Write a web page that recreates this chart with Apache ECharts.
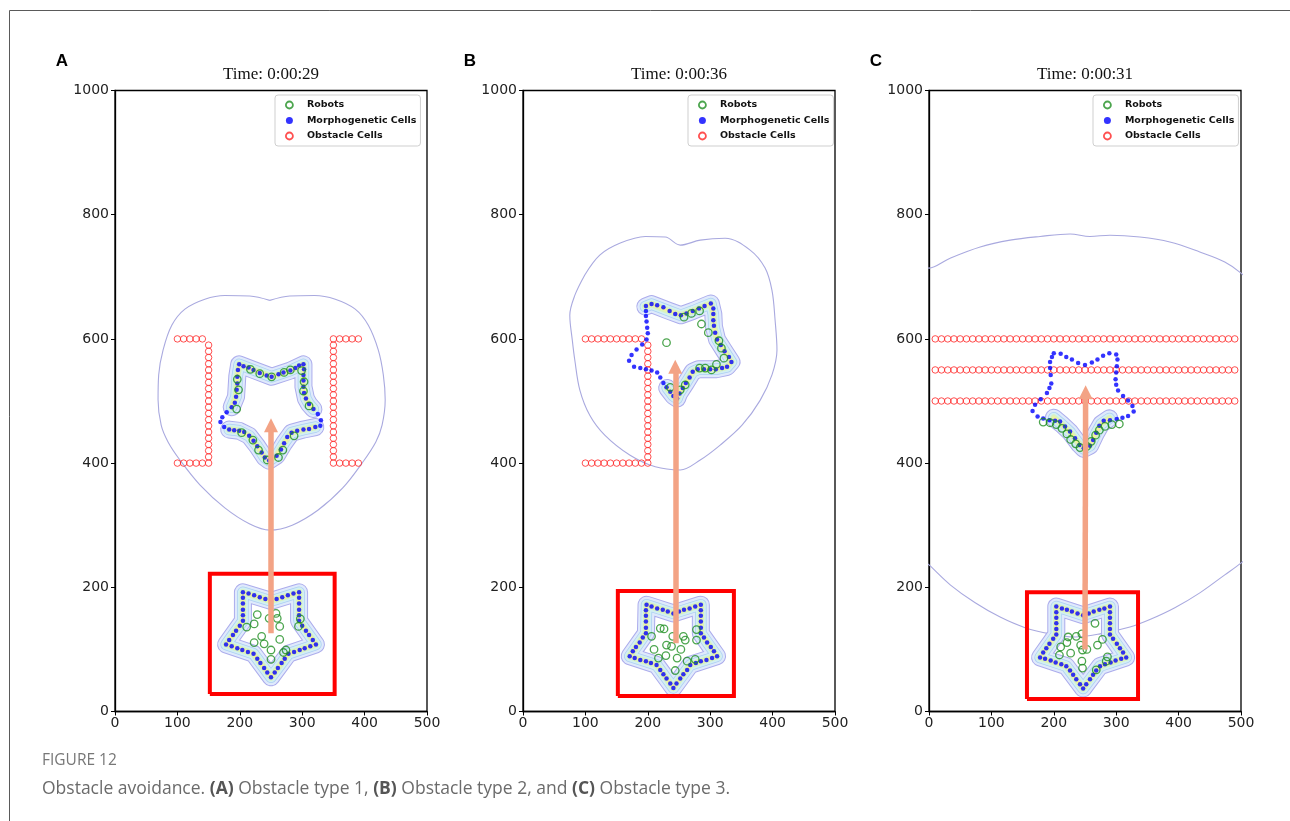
<!DOCTYPE html>
<html>
<head>
<meta charset="utf-8">
<script src="https://cdn.jsdelivr.net/npm/echarts@6/dist/echarts.min.js"></script>
<style>
  html, body { margin: 0; padding: 0; background: #ffffff; }
  #main { width: 1290px; height: 821px; }
</style>
</head>
<body>
<div id="main"></div>
<script>
// ---------------- values ----------------
const panelTitles = ['Time: 0:00:29', 'Time: 0:00:36', 'Time: 0:00:31'];
const panelLetters = ['A', 'B', 'C'];
const legendNames = ['Robots', 'Morphogenetic Cells', 'Obstacle Cells'];
const figureLabel = 'FIGURE 12';

// Obstacle cells (x, y)
const obstacleCellsA = [
  [100,600],[110,600],[120,600],[130,600],[140,600],
  [150,590],[150,580],[150,570],[150,560],[150,550],[150,540],[150,530],[150,520],[150,510],[150,500],
  [150,490],[150,480],[150,470],[150,460],[150,450],[150,440],[150,430],[150,420],[150,410],[150,400],
  [100,400],[110,400],[120,400],[130,400],[140,400],
  [350,600],[350,590],[350,580],[350,570],[350,560],[350,550],[350,540],[350,530],[350,520],[350,510],[350,500],
  [350,490],[350,480],[350,470],[350,460],[350,450],[350,440],[350,430],[350,420],[350,410],[350,400],
  [360,600],[370,600],[380,600],[390,600],
  [360,400],[370,400],[380,400],[390,400]
];
const obstacleCellsB = [
  [100,600],[110,600],[120,600],[130,600],[140,600],[150,600],[160,600],[170,600],[180,600],[190,600],
  [200,590],[200,580],[200,570],[200,560],[200,550],[200,540],[200,530],[200,520],[200,510],[200,500],
  [200,490],[200,480],[200,470],[200,460],[200,450],[200,440],[200,430],[200,420],[200,410],[200,400],
  [100,400],[110,400],[120,400],[130,400],[140,400],[150,400],[160,400],[170,400],[180,400],[190,400]
];
const obstacleRowXC = [10,20,30,40,50,60,70,80,90,100,110,120,130,140,150,160,170,180,190,200,
  210,220,230,240,250,260,270,280,290,300,310,320,330,340,350,360,370,380,390,400,
  410,420,430,440,450,460,470,480,490];
const obstacleRowYC = [500, 550, 600];

// Morphogenetic cells
const morphoStartA = [
  [250,55],[256,63],[261,70],[267,78],[272,85],[278,93],[287,96],[296,99],[304,102],[313,105],
  [322,108],[317,115],[311,123],[306,130],[300,138],[295,146],[295,155],[295,164],[295,174],[295,183],
  [295,192],[286,190],[277,187],[268,184],[259,181],[250,178],[241,181],[232,184],[223,187],[214,190],
  [205,192],[205,183],[205,174],[205,164],[205,155],[205,146],[200,138],[194,130],[189,123],[183,115],
  [178,108],[187,105],[196,102],[204,99],[213,96],[222,93],[228,85],[233,78],[239,70],[244,63]
];
const morphoUpperA = [
  [199,559],[206,556],[214,554],[222,550],[232,545],[243,541],[251,539],[262,543],[270,546],[281,549],
  [289,553],[295,557],[302,559],[303,551],[302,542],[302,533],[302,523],[303,513],[306,504],[311,495],
  [318,487],[325,479],[330,469],[329,460],[321,458],[311,455],[302,454],[292,452],[283,449],[276,442],
  [271,432],[266,422],[259,412],[247,404],[240,409],[235,417],[228,427],[222,436],[215,444],[207,450],
  [199,452],[191,453],[183,454],[175,458],[169,466],[172,474],[179,482],[187,490],[192,497],[194,507],
  [195,518],[196,528],[196,539],[197,550]
];
const morphoStartB = [
  [241,38],[246,45],[252,53],[257,60],[263,67],[268,75],[277,78],[285,81],[294,83],[303,86],
  [311,89],[306,97],[301,104],[295,111],[290,119],[285,126],[285,135],[285,145],[285,154],[285,163],
  [285,172],[276,169],[267,166],[258,164],[250,161],[241,158],[232,161],[224,164],[215,166],[206,169],
  [198,172],[197,163],[197,154],[197,145],[197,135],[197,126],[192,119],[187,111],[181,104],[176,97],
  [171,89],[179,86],[188,83],[197,81],[205,78],[214,75],[220,67],[225,60],[230,53],[236,45]
];
const morphoUpperB = [
  [197,653],[206,656],[215,654],[225,651],[235,645],[244,640],[253,638],[262,641],[272,645],[282,649],
  [291,653],[301,657],[305,649],[305,640],[305,630],[306,621],[308,610],[311,599],[317,590],[323,580],
  [330,571],[334,563],[327,555],[319,553],[309,551],[300,551],[290,551],[280,551],[272,547],[267,538],
  [261,529],[256,521],[251,512],[247,504],[241,508],[236,515],[230,522],[225,529],[220,538],[215,546],
  [206,549],[197,551],[188,553],[178,555],[170,565],[174,574],[182,583],[191,591],[198,599],[200,609],
  [199,618],[198,628],[197,637],[197,645]
];
const morphoStartC = [
  [247,37],[252,44],[258,52],[263,59],[268,66],[274,73],[282,76],[291,79],[299,82],[308,85],
  [316,87],[311,95],[306,102],[301,109],[295,117],[290,124],[290,133],[290,142],[290,151],[290,160],
  [290,169],[281,166],[273,164],[264,161],[256,158],[247,155],[238,158],[229,161],[221,164],[213,166],
  [204,169],[204,160],[204,151],[204,142],[204,133],[204,124],[199,117],[193,109],[188,102],[183,95],
  [178,87],[186,85],[195,82],[203,79],[212,76],[220,73],[226,66],[231,59],[236,52],[242,44]
];
const morphoUpperC = [
  [200,577],[211,576],[220,571],[229,567],[239,561],[250,558],[261,562],[270,567],[279,573],[289,577],
  [300,575],[302,567],[301,556],[300,546],[299,535],[300,526],[303,517],[311,508],[319,501],[326,492],
  [328,483],[319,476],[310,473],[301,471],[290,469],[280,468],[273,460],[268,449],[263,437],[258,428],
  [248,424],[241,429],[234,440],[226,451],[218,459],[210,467],[202,468],[193,469],[183,472],[174,475],
  [166,484],[170,494],[179,503],[189,513],[193,521],[196,528],[195,542],[194,553],[194,563],[197,571]
];

// Robots
const robotsStartA = [
  [228,156],[247,150],[258,158],[260,150],[223,141],[264,137],[211,136],[297,149],[294,137],
  [235,121],[223,111],[239,109],[250,99],[264,116],[274,99],[270,95],[250,84]
];
const robotsUpperA = [
  [217,551],[232,544],[251,539],[271,546],[281,550],[299,549],[303,531],[302,516],[311,492],
  [196,535],[198,518],[195,487],[203,449],[221,437],[230,421],[244,405],[262,409],[269,421],[287,444]
];
const robotsStartB = [
  [220,134],[226,133],[240,121],[257,121],[260,115],[278,132],[278,115],[206,121],[210,100],
  [230,107],[238,105],[253,100],[229,90],[247,86],[217,86],[263,81],[276,84],[244,66]
];
const robotsUpperB = [
  [258,635],[270,641],[283,645],[286,624],[297,610],[314,597],[318,585],[322,569],
  [310,559],[302,550],[292,553],[283,553],[260,526],[252,518],[236,522],[230,594]
];
const robotsStartC = [
  [266,142],[223,120],[236,121],[245,125],[221,111],[211,104],[243,107],[246,99],[253,100],
  [227,94],[209,91],[245,81],[246,70],[270,107],[278,116],[286,88],[284,81],[268,67]
];
const robotsUpperC = [
  [183,466],[194,465],[204,462],[213,456],[221,447],[227,438],[235,431],[242,425],
  [253,427],[260,435],[267,445],[273,453],[282,459],[293,462],[305,463]
];

// Field level sets: the band around the formation and the outer boundary contour
const bandStartA = [[250,55],[278,93],[322,108],[295,146],[295,192],[250,178],[205,192],[205,146],[178,108],[222,93],[250,55]];
const bandTopA = [[187,490],[194,507],[196,540],[199,559],[222,550],[251,539],[281,549],[302,559],[302,523],[306,504],[311,495],[318,487]];
const bandBottomA = [[183,454],[199,452],[215,444],[228,427],[240,409],[247,404],[259,412],[271,432],[283,449],[302,454],[321,458]];
const bandStartB = [[241,38],[268,75],[311,89],[285,126],[285,172],[241,158],[198,172],[197,126],[171,89],[214,75],[241,38]];
const bandUpperB = [[196,652],[206,656],[234,645],[253,638],[272,645],[301,657],[305,640],[306,620],[311,599],[323,580],[334,563],[327,555],[309,551],[281,551],[272,547],[261,529],[250,512],[247,504],[241,508],[231,521]];
const bandStartC = [[247,37],[274,73],[316,87],[290,124],[290,169],[247,155],[204,169],[204,124],[178,87],[220,73],[247,37]];
const bandUpperC = [[200,473],[212,463],[226,450],[241,430],[248,423],[258,428],[268,449],[276,463],[289,472]];

const outerContourA = [
  [248,662],[216,669],[176,670],[144,664],[112,648],[91,622],[77,582],[70,542],[69,502],[74,461],
  [85,434],[104,405],[136,365],[176,328],[216,302],[248,292],[284,300],[325,324],[365,360],[396,400],
  [418,434],[428,461],[433,502],[430,542],[422,582],[406,622],[385,648],[353,664],[320,670],[280,669],[248,662]
];
const outerContourB = [
  [99,703],[123,735],[155,754],[196,765],[228,764],[252,751],[284,759],[324,762],[364,743],[388,714],
  [399,678],[404,630],[407,582],[399,542],[380,501],[351,461],[316,429],[284,405],[252,389],[212,394],
  [171,413],[131,445],[107,477],[91,518],[83,566],[79,598],[75,638],[83,670],[99,703]
];
const outerContourC = [
  [-46,759],[0,714],[34,730],[82,748],[130,759],[178,765],[226,769],[258,765],[290,767],[338,764],
  [386,756],[434,740],[474,724],[500,706],[546,662],[562,453],[546,276],[500,239],[474,220],[434,191],
  [394,167],[354,148],[322,136],[274,125],[234,120],[194,125],[154,135],[114,152],[74,175],[34,204],
  [0,236],[-46,276],[-62,453],[-46,759]
];

// Start areas [xMin, xMax, yMin, yMax]
const startBoxA = [152, 352, 28, 222];
const startBoxB = [152, 338, 25, 194];
const startBoxC = [157, 335, 20, 192];

// Movement arrows [from, to]
const moveArrowA = [[250,126],[250,461]];
const moveArrowB = [[244,110],[244,555]];
const moveArrowC = [[250,100],[251,514]];

// ---------------- layout & styling ----------------
const gridLefts = [115, 523, 929];
const GRID_TOP = 90.5, GRID_W = 312, GRID_H = 621;
const legendLefts = [275, 688, 1093];

const COL_ROBOT = '#1f8f22';
const COL_MORPHO = '#0000ff';
const COL_OBST = '#ff2424';
const COL_CONTOUR = '#a9a9df';
const COL_ARROW = '#f3a385';

const bandLayers = [
  { w: 18, c: '#acacec' },
  { w: 16, c: '#dfeafc' },
  { w: 11.5, c: '#adcff3' },
  { w: 10, c: '#d2eff3' },
  { w: 6.5, c: '#d9f3bd' },
  { w: 3, c: '#f4f29c' }
];

const panels = [
  { contour: outerContourA, bands: [bandStartA, bandTopA, bandBottomA], box: startBoxA,
    obstacles: obstacleCellsA, morpho: morphoStartA.concat(morphoUpperA),
    robots: robotsStartA.concat(robotsUpperA), arrow: moveArrowA },
  { contour: outerContourB, bands: [bandStartB, bandUpperB], box: startBoxB,
    obstacles: obstacleCellsB, morpho: morphoStartB.concat(morphoUpperB),
    robots: robotsStartB.concat(robotsUpperB), arrow: moveArrowB },
  { contour: outerContourC, bands: [bandStartC, bandUpperC], box: startBoxC,
    obstacles: obstacleRowYC.flatMap(y => obstacleRowXC.map(x => [x, y])),
    morpho: morphoStartC.concat(morphoUpperC),
    robots: robotsStartC.concat(robotsUpperC), arrow: moveArrowC }
];

const tickFont = { color: '#222', fontSize: 14, fontFamily: 'DejaVu Sans', formatter: v => String(v) };

const grids = [], xAxes = [], yAxes = [], series = [], legends = [], graphics = [];

panels.forEach((p, i) => {
  grids.push({ left: gridLefts[i], top: GRID_TOP, width: GRID_W, height: GRID_H,
    show: true, borderColor: '#000', borderWidth: 1.3, backgroundColor: 'transparent' });
  xAxes.push({ gridIndex: i, type: 'value', min: 0, max: 500, interval: 100,
    axisLine: { show: true, onZero: false, lineStyle: { color: '#000', width: 1.3 } },
    axisTick: { show: true, length: 4, lineStyle: { color: '#000', width: 1 } },
    axisLabel: Object.assign({ margin: 5 }, tickFont),
    splitLine: { show: false } });
  yAxes.push({ gridIndex: i, type: 'value', min: 0, max: 1000, interval: 200,
    axisLine: { show: true, onZero: false, lineStyle: { color: '#000', width: 1.3 } },
    axisTick: { show: true, length: 4, lineStyle: { color: '#000', width: 1 } },
    axisLabel: Object.assign({ margin: 6 }, tickFont),
    splitLine: { show: false } });

  const ax = { xAxisIndex: i, yAxisIndex: i, silent: true };

  // outer boundary contour of the field
  series.push(Object.assign({ type: 'line', data: p.contour, smooth: 0.35, symbol: 'none',
    lineStyle: { color: COL_CONTOUR, width: 1.1 }, z: 1, clip: true }, ax));

  // gradient band hugging the formation
  p.bands.forEach(path => {
    bandLayers.forEach(layer => {
      series.push(Object.assign({ type: 'line', data: path, symbol: 'none',
        lineStyle: { color: layer.c, width: layer.w, join: 'round', cap: 'round' }, z: 2 }, ax));
    });
  });

  // start area rectangle
  const b = p.box;
  series.push(Object.assign({ type: 'line', symbol: 'none',
    data: [[b[0], b[2]], [b[1], b[2]], [b[1], b[3]], [b[0], b[3]], [b[0], b[2]]],
    lineStyle: { color: '#ff0000', width: 4, join: 'miter' }, z: 3 }, ax));

  series.push(Object.assign({ name: 'Obstacle Cells', type: 'scatter', data: p.obstacles,
    symbol: 'circle', symbolSize: 6.5,
    itemStyle: { color: 'rgba(255,255,255,0)', borderColor: COL_OBST, borderWidth: 1 }, z: 4 }, ax));

  series.push(Object.assign({ name: 'Morphogenetic Cells', type: 'scatter', data: p.morpho,
    symbol: 'circle', symbolSize: 4.5, itemStyle: { color: COL_MORPHO }, z: 5 }, ax));

  series.push(Object.assign({ name: 'Robots', type: 'scatter', data: p.robots,
    symbol: 'circle', symbolSize: 7.5,
    itemStyle: { color: 'rgba(255,255,255,0)', borderColor: COL_ROBOT, borderWidth: 1.3 }, z: 6 }, ax));

  series.push(Object.assign({ type: 'lines', coordinateSystem: 'cartesian2d',
    data: [{ coords: p.arrow }], symbol: ['none', 'triangle'], symbolSize: 14,
    lineStyle: { color: COL_ARROW, width: 5.5, opacity: 1 }, z: 7 }, ax));

  legends.push({
    orient: 'vertical', left: legendLefts[i], top: 95, z: 20,
    itemWidth: 17, itemHeight: 7, itemGap: 2.5, padding: [3.5, 4, 3.5, 10],
    backgroundColor: '#fff', borderColor: '#cfcfcf', borderWidth: 1, borderRadius: 3,
    selectedMode: false,
    textStyle: { fontFamily: 'DejaVu Sans', fontSize: 9.5, fontWeight: 'bold', color: '#111',
      lineHeight: 13, padding: [0, 0, 0, 4] },
    data: [
      { name: legendNames[0], icon: 'circle', itemStyle: { color: '#fff', borderColor: COL_ROBOT, borderWidth: 1.8 } },
      { name: legendNames[1], icon: 'circle', itemStyle: { color: COL_MORPHO, borderWidth: 0 } },
      { name: legendNames[2], icon: 'circle', itemStyle: { color: '#fff', borderColor: COL_OBST, borderWidth: 1.8 } }
    ]
  });

  graphics.push({ type: 'text', x: gridLefts[i] + GRID_W / 2, y: 75,
    style: { text: panelTitles[i], fill: '#111', font: '17px "Liberation Serif"',
      align: 'center', verticalAlign: 'middle', textAlign: 'center', textVerticalAlign: 'middle' } });
  graphics.push({ type: 'text', x: gridLefts[i] - 53, y: 61,
    style: { text: panelLetters[i], fill: '#000', font: 'bold 17px "Liberation Sans"',
      align: 'center', verticalAlign: 'middle', textAlign: 'center', textVerticalAlign: 'middle' } });
});

// figure frame
graphics.unshift({ type: 'rect', shape: { x: 9.5, y: 10.5, width: 1400, height: 900 },
  style: { fill: 'none', stroke: '#5a5a5a', lineWidth: 1 }, silent: true });

graphics.push({ type: 'text', x: 42, y: 761,
  style: { text: figureLabel, fill: '#777', font: '15.5px "Open Sans"', verticalAlign: 'middle', textVerticalAlign: 'middle' } });
graphics.push({ type: 'text', x: 42, y: 789,
  style: {
    text: '{n|Obstacle avoidance. }{b|(A)}{n| Obstacle type 1, }{b|(B)}{n| Obstacle type 2, and }{b|(C)}{n| Obstacle type 3.}',
    verticalAlign: 'middle', textVerticalAlign: 'middle',
    rich: {
      n: { fill: '#6b6b6b', color: '#6b6b6b', fontFamily: 'Open Sans', fontSize: 17.5 },
      b: { fill: '#555', color: '#555', fontFamily: 'Open Sans', fontSize: 17.5, fontWeight: 'bold' }
    }
  } });

const chart = echarts.init(document.getElementById('main'), null, { renderer: 'canvas' });
chart.setOption({
  animation: false,
  backgroundColor: '#ffffff',
  grid: grids,
  xAxis: xAxes,
  yAxis: yAxes,
  legend: legends,
  series: series,
  graphic: graphics
});
</script>
</body>
</html>
